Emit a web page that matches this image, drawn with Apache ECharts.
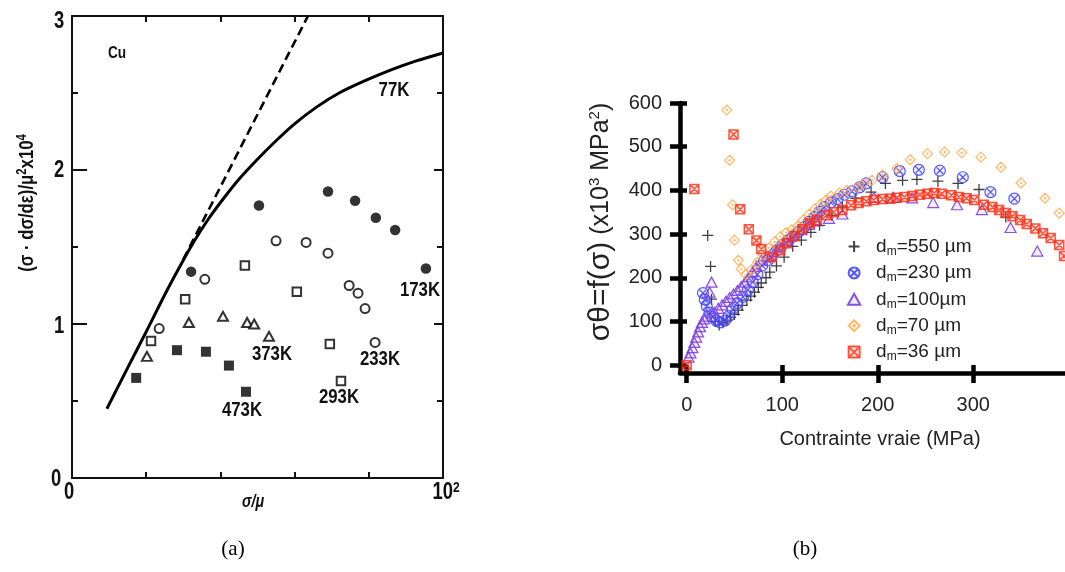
<!DOCTYPE html>
<html>
<head>
<meta charset="utf-8">
<script src="https://cdn.jsdelivr.net/npm/echarts@6/dist/echarts.min.js"></script>
<style>html,body{margin:0;padding:0;background:#fff}#c{width:1065px;height:572px}</style>
</head>
<body>
<div id="c"></div>
<script>
// ---------- Panel (a) data : x = sigma/mu (0..100 of the 10^2 scale), y = (sigma dsigma/deps)/mu^2 x10^4
const aCurve77 = [[9.4,0.45],[15,0.715],[20,0.95],[25,1.19],[29,1.37],[33,1.54],[37,1.69],[41,1.82],[45,1.94],[50,2.07],[55,2.19],[60,2.30],[66,2.41],[72,2.50],[79,2.58],[86,2.65],[93,2.71],[100,2.76]];
const aDashed = [[30,1.42],[63.6,3.0]];
const a173K = [[32.1,1.34],[50.4,1.77],[69.0,1.86],[76.3,1.80],[81.9,1.69],[87.1,1.61],[95.4,1.36]];
const a233K = [[23.5,0.97],[35.8,1.29],[55.0,1.54],[63.1,1.53],[69.0,1.46],[74.7,1.25],[77.1,1.20],[79.0,1.10],[81.7,0.88]];
const a293K = [[21.3,0.89],[30.5,1.16],[46.6,1.38],[60.6,1.21],[69.5,0.87],[72.5,0.63]];
const a373K = [[20.2,0.79],[31.5,1.01],[40.7,1.05],[47.2,1.01],[49.1,1.00],[53.1,0.92]];
const a473K = [[17.3,0.65],[28.3,0.83],[36.1,0.82],[42.3,0.73],[46.9,0.56]];

// ---------- Panel (b) data : x = contrainte vraie (MPa), y = sigma*theta (x10^3 MPa^2)
const b550 = [[22,297],[25,226],[26,151],[30,100],[34,92],[38,97],[42,103],[46,110],[50,116],[54,126],[58,137],[63,149],[67,158],[71,167],[75,178],[78,188],[83,200],[87,213],[94,227],[102,247],[111,272],[120,286],[130,304],[139,320],[152,343],[163,362],[177,382],[193,396],[208,416],[226,423],[241,425],[263,421],[284,416],[306,402],[334,339]];
const b230 = [[17,165],[19,150],[21,135],[24,120],[27,110],[31,102],[35,98],[40,102],[44,112],[48,128],[53,142],[59,156],[64,172],[69,190],[74,208],[79,228],[85,240],[90,252],[95,264],[100,275],[106,285],[111,294],[117,305],[123,316],[128,328],[134,339],[139,351],[144,362],[151,372],[158,380],[165,390],[173,398],[181,407],[188,416],[205,430],[223,444],[243,447],[265,445],[289,430],[318,396],[343,381]];
const b100 = [[2,18],[4,28],[6,40],[8,52],[10,64],[12,76],[14,88],[16,98],[18,106],[21,112],[24,167],[26,190],[29,121],[33,130],[37,138],[41,146],[45,155],[49,163],[53,171],[57,180],[61,190],[65,202],[69,214],[73,226],[78,240],[84,250],[90,260],[97,272],[104,285],[112,298],[120,310],[128,322],[136,330],[149,336],[163,346],[196,384],[216,384],[236,383],[258,372],[283,367],[309,356],[339,315],[367,261]];
const b70 = [[42,584],[45,469],[48,367],[50,286],[54,240],[57,220],[62,207],[68,218],[74,235],[80,252],[86,268],[92,282],[98,294],[104,303],[110,310],[116,318],[122,332],[128,345],[134,357],[140,368],[146,378],[151,387],[160,394],[168,400],[179,407],[185,415],[194,423],[205,435],[220,450],[234,470],[252,484],[270,488],[288,486],[308,476],[329,453],[350,417],[375,382],[390,348]];
const b36 = [[0,0],[8,403],[49,528],[56,357],[65,311],[73,285],[78,266],[89,247],[98,263],[105,279],[113,295],[121,311],[129,325],[136,332],[146,343],[154,350],[163,355],[172,366],[180,371],[188,375],[196,378],[205,380],[213,381],[220,383],[228,385],[236,387],[244,390],[252,392],[259,394],[267,392],[277,389],[285,385],[293,382],[301,378],[311,367],[320,362],[327,355],[334,348],[341,341],[349,332],[356,323],[365,313],[373,302],[381,291],[390,275],[395,250]];
const bXTicks = [0,100,200,300];
const bYTicks = [0,100,200,300,400,500,600];
const bNames = ['dm=550 µm','dm=230 µm','dm=100µm','dm=70 µm','dm=36 µm'];

const BOLD = '"Liberation Sans",Arial,sans-serif';
const SANS = '"Liberation Sans",Arial,sans-serif';
const CX = 0.8; // horizontal condensing of panel (a) lettering

const chart = echarts.init(document.getElementById('c'), null, {renderer:'canvas'});

const axA = (extra) => Object.assign({
  type:'value', gridIndex:0, min:0, splitLine:{show:false},
  axisLine:{show:true, onZero:false, lineStyle:{color:'#111', width:2}},
}, extra);

const thick = {color:'#000', width:4.5};
const axB = (extra) => Object.assign({
  type:'value', gridIndex:1, splitLine:{show:false},
  axisLine:{show:true, onZero:false, lineStyle:thick},
}, extra);

const symPlus = 'path://M5,0V10M0,5H10';
const symCircX = 'path://M0,5A5,5,0,1,0,10,5A5,5,0,1,0,0,5ZM2,2L8,8M8,2L2,8';
const symTri = 'path://M5,0L10,9L0,9Z';
const symDia = 'path://M5,0L10,5L5,10L0,5ZM5,4.3L5.7,5L5,5.7L4.3,5Z';
const symSqX = 'path://M0,0H10V10H0ZM0,0L10,10M10,0L0,10';

function lab(x, y, text, size, extra) {
  return Object.assign({type:'text', x:x, y:y, scaleX:CX, style:{text:text, align:'center', verticalAlign:'middle',
    font:'bold ' + size + 'px ' + BOLD, fill:'#111'}}, extra || {});
}

const option = {
  animation:false,
  backgroundColor:'#fff',
  grid:[
    {left:72, top:16, width:371, height:462},
    {left:680, top:103, width:386, height:270}
  ],
  xAxis:[
    axA({position:'bottom', max:100, interval:20,
      axisTick:{show:true, inside:true, length:6, lineStyle:{color:'#111', width:2}},
      axisLabel:{show:false}
    }),
    axA({position:'top', max:100, interval:20,
      axisTick:{show:true, inside:true, length:6, lineStyle:{color:'#111', width:2}},
      axisLabel:{show:false}
    }),
    axB({position:'bottom', min:-7, max:396,
      axisTick:{show:true, inside:false, length:10, customValues:bXTicks, lineStyle:thick},
      axisLabel:{show:true, customValues:bXTicks, margin:22, color:'#222', fontFamily:SANS, fontSize:20}
    }),
    axB({position:'bottom', min:-7, max:396,
      axisLine:{show:false, onZero:false},
      axisTick:{show:true, inside:true, length:8, customValues:bXTicks, lineStyle:thick},
      axisLabel:{show:false}
    })
  ],
  yAxis:[
    axA({position:'left', max:3, interval:1,
      axisTick:{show:true, inside:true, length:15, lineStyle:{color:'#111', width:2}},
      minorTick:{show:true, splitNumber:2, length:6, lineStyle:{color:'#111', width:2}},
      axisLabel:{show:false}
    }),
    axA({position:'right', max:3, interval:1,
      axisTick:{show:true, inside:true, length:9, lineStyle:{color:'#111', width:2}},
      minorTick:{show:true, splitNumber:2, length:6, lineStyle:{color:'#111', width:2}},
      axisLabel:{show:false}
    }),
    axB({position:'left', min:-18, max:600,
      axisTick:{show:true, inside:false, length:10, customValues:bYTicks, lineStyle:thick},
      axisLabel:{show:true, customValues:bYTicks, margin:18, color:'#222', fontFamily:SANS, fontSize:20}
    }),
    axB({position:'left', min:-18, max:600,
      axisLine:{show:false, onZero:false},
      axisTick:{show:true, inside:true, length:7, customValues:bYTicks, lineStyle:thick},
      axisLabel:{show:false}
    })
  ],
  legend:{
    show:true, orient:'vertical', left:842, top:232, itemGap:5.9, itemWidth:18, itemHeight:11,
    data:bNames,
    formatter:(n)=> '{t|d}{s|m}{t|' + n.slice(2) + '}',
    textStyle:{padding:[0,0,0,8],
      rich:{t:{fontFamily:SANS, fontSize:19, color:'#222', lineHeight:22},
            s:{fontFamily:SANS, fontSize:12, color:'#222', lineHeight:10, verticalAlign:'bottom'}}}
  },
  series:[
    // panel (a)
    {type:'line', xAxisIndex:0, yAxisIndex:0, data:aCurve77, smooth:0.25, showSymbol:false, silent:true,
      lineStyle:{color:'#000', width:3}},
    {type:'line', xAxisIndex:0, yAxisIndex:0, data:aDashed, showSymbol:false, silent:true,
      lineStyle:{color:'#000', width:2.6, type:[9,5]}},
    {type:'scatter', xAxisIndex:0, yAxisIndex:0, data:a173K, symbol:'circle', symbolSize:10.5, itemStyle:{color:'#000'}},
    {type:'scatter', xAxisIndex:0, yAxisIndex:0, data:a233K, symbol:'emptyCircle', symbolSize:9, itemStyle:{color:'#000', borderWidth:2}},
    {type:'scatter', xAxisIndex:0, yAxisIndex:0, data:a293K, symbol:'emptyRect', symbolSize:8.5, itemStyle:{color:'#000', borderWidth:2}},
    {type:'scatter', xAxisIndex:0, yAxisIndex:0, data:a373K, symbol:'emptyTriangle', symbolSize:[10,9], itemStyle:{color:'#000', borderWidth:1.8}},
    {type:'scatter', xAxisIndex:0, yAxisIndex:0, data:a473K, symbol:'rect', symbolSize:10, itemStyle:{color:'#000'}},
    // panel (b)
    {name:bNames[0], type:'scatter', xAxisIndex:2, yAxisIndex:2, data:b550, symbol:symPlus, symbolSize:11,
      itemStyle:{color:'rgba(0,0,0,0)', borderColor:'#111', borderWidth:1.3}},
    {name:bNames[1], type:'scatter', xAxisIndex:2, yAxisIndex:2, data:b230, symbol:symCircX, symbolSize:11,
      itemStyle:{color:'rgba(110,110,255,0.12)', borderColor:'#4646ff', borderWidth:1.2, opacity:0.9}},
    {name:bNames[2], type:'scatter', xAxisIndex:2, yAxisIndex:2, data:b100, symbol:symTri, symbolSize:[11,10],
      itemStyle:{color:'rgba(140,90,230,0.12)', borderColor:'#7a3fdc', borderWidth:1.2, opacity:0.9}},
    {name:bNames[3], type:'scatter', xAxisIndex:2, yAxisIndex:2, data:b70, symbol:symDia, symbolSize:10,
      itemStyle:{color:'rgba(0,0,0,0)', borderColor:'#ffa640', borderWidth:1.2}},
    {name:bNames[4], type:'scatter', xAxisIndex:2, yAxisIndex:2, data:b36, symbol:symSqX, symbolSize:9,
      itemStyle:{color:'rgba(255,120,100,0.22)', borderColor:'#ff2a10', borderWidth:1.5}}
  ],
  graphic:[
    // panel (a) axis tick labels
    lab(59, 22, '3', 23), lab(59, 171, '2', 23), lab(59, 327, '1', 23), lab(56, 480, '0', 23),
    lab(69, 493, '0', 23),
    {type:'text', x:446, y:493, scaleX:CX, style:{text:'{n|10}{p|2}', align:'center', verticalAlign:'middle',
      rich:{n:{font:'bold 23px ' + BOLD, fill:'#111', lineHeight:26},
            p:{font:'bold 15px ' + BOLD, fill:'#111', lineHeight:15, verticalAlign:'top'}}}},
    // panel (a) axis titles & annotations
    {type:'text', x:27, y:203, rotation:Math.PI/2, scaleX:CX, style:{
      text:'{t|(σ · dσ/dε)/μ}{p|2}{t|x10}{p|4}', align:'center', verticalAlign:'middle',
      rich:{t:{font:'bold 21px ' + BOLD, fill:'#111', lineHeight:24},
            p:{font:'bold 14px ' + BOLD, fill:'#111', lineHeight:13, verticalAlign:'top'}}}},
    lab(253, 502, 'σ/μ', 18, {style:{text:'σ/μ', align:'center', verticalAlign:'middle', font:'italic bold 18px ' + BOLD, fill:'#111'}}),
    lab(117, 53, 'Cu', 17),
    lab(394, 90, '77K', 21),
    lab(420, 290, '173K', 21),
    lab(272, 354, '373K', 21),
    lab(380, 359, '233K', 21),
    lab(242, 410, '473K', 21),
    lab(339, 397, '293K', 21),
    // panel (b) texts
    {type:'text', x:601, y:222, rotation:Math.PI/2, style:{
      text:'{a|σθ=f(σ)}{b| (x10}{p|3}{b| MPa}{p|2}{b|)}', align:'center', verticalAlign:'middle',
      rich:{a:{fontFamily:SANS, fontSize:30, fill:'#222', lineHeight:34},
            b:{fontFamily:SANS, fontSize:25, fill:'#222', lineHeight:34},
            p:{fontFamily:SANS, fontSize:15, fill:'#222', lineHeight:16, verticalAlign:'top', padding:[3,0,0,0]}}}},
    {type:'text', x:880, y:439, style:{text:'Contrainte vraie (MPa)', align:'center', verticalAlign:'middle', font:'20px ' + SANS, fill:'#222'}},
    // captions
    {type:'text', x:233, y:549, style:{text:'(a)', align:'center', verticalAlign:'middle', font:'21px "Liberation Serif","Times New Roman",serif', fill:'#000'}},
    {type:'text', x:805, y:549, style:{text:'(b)', align:'center', verticalAlign:'middle', font:'21px "Liberation Serif","Times New Roman",serif', fill:'#000'}}
  ]
};
chart.setOption(option);
</script>
</body>
</html>
